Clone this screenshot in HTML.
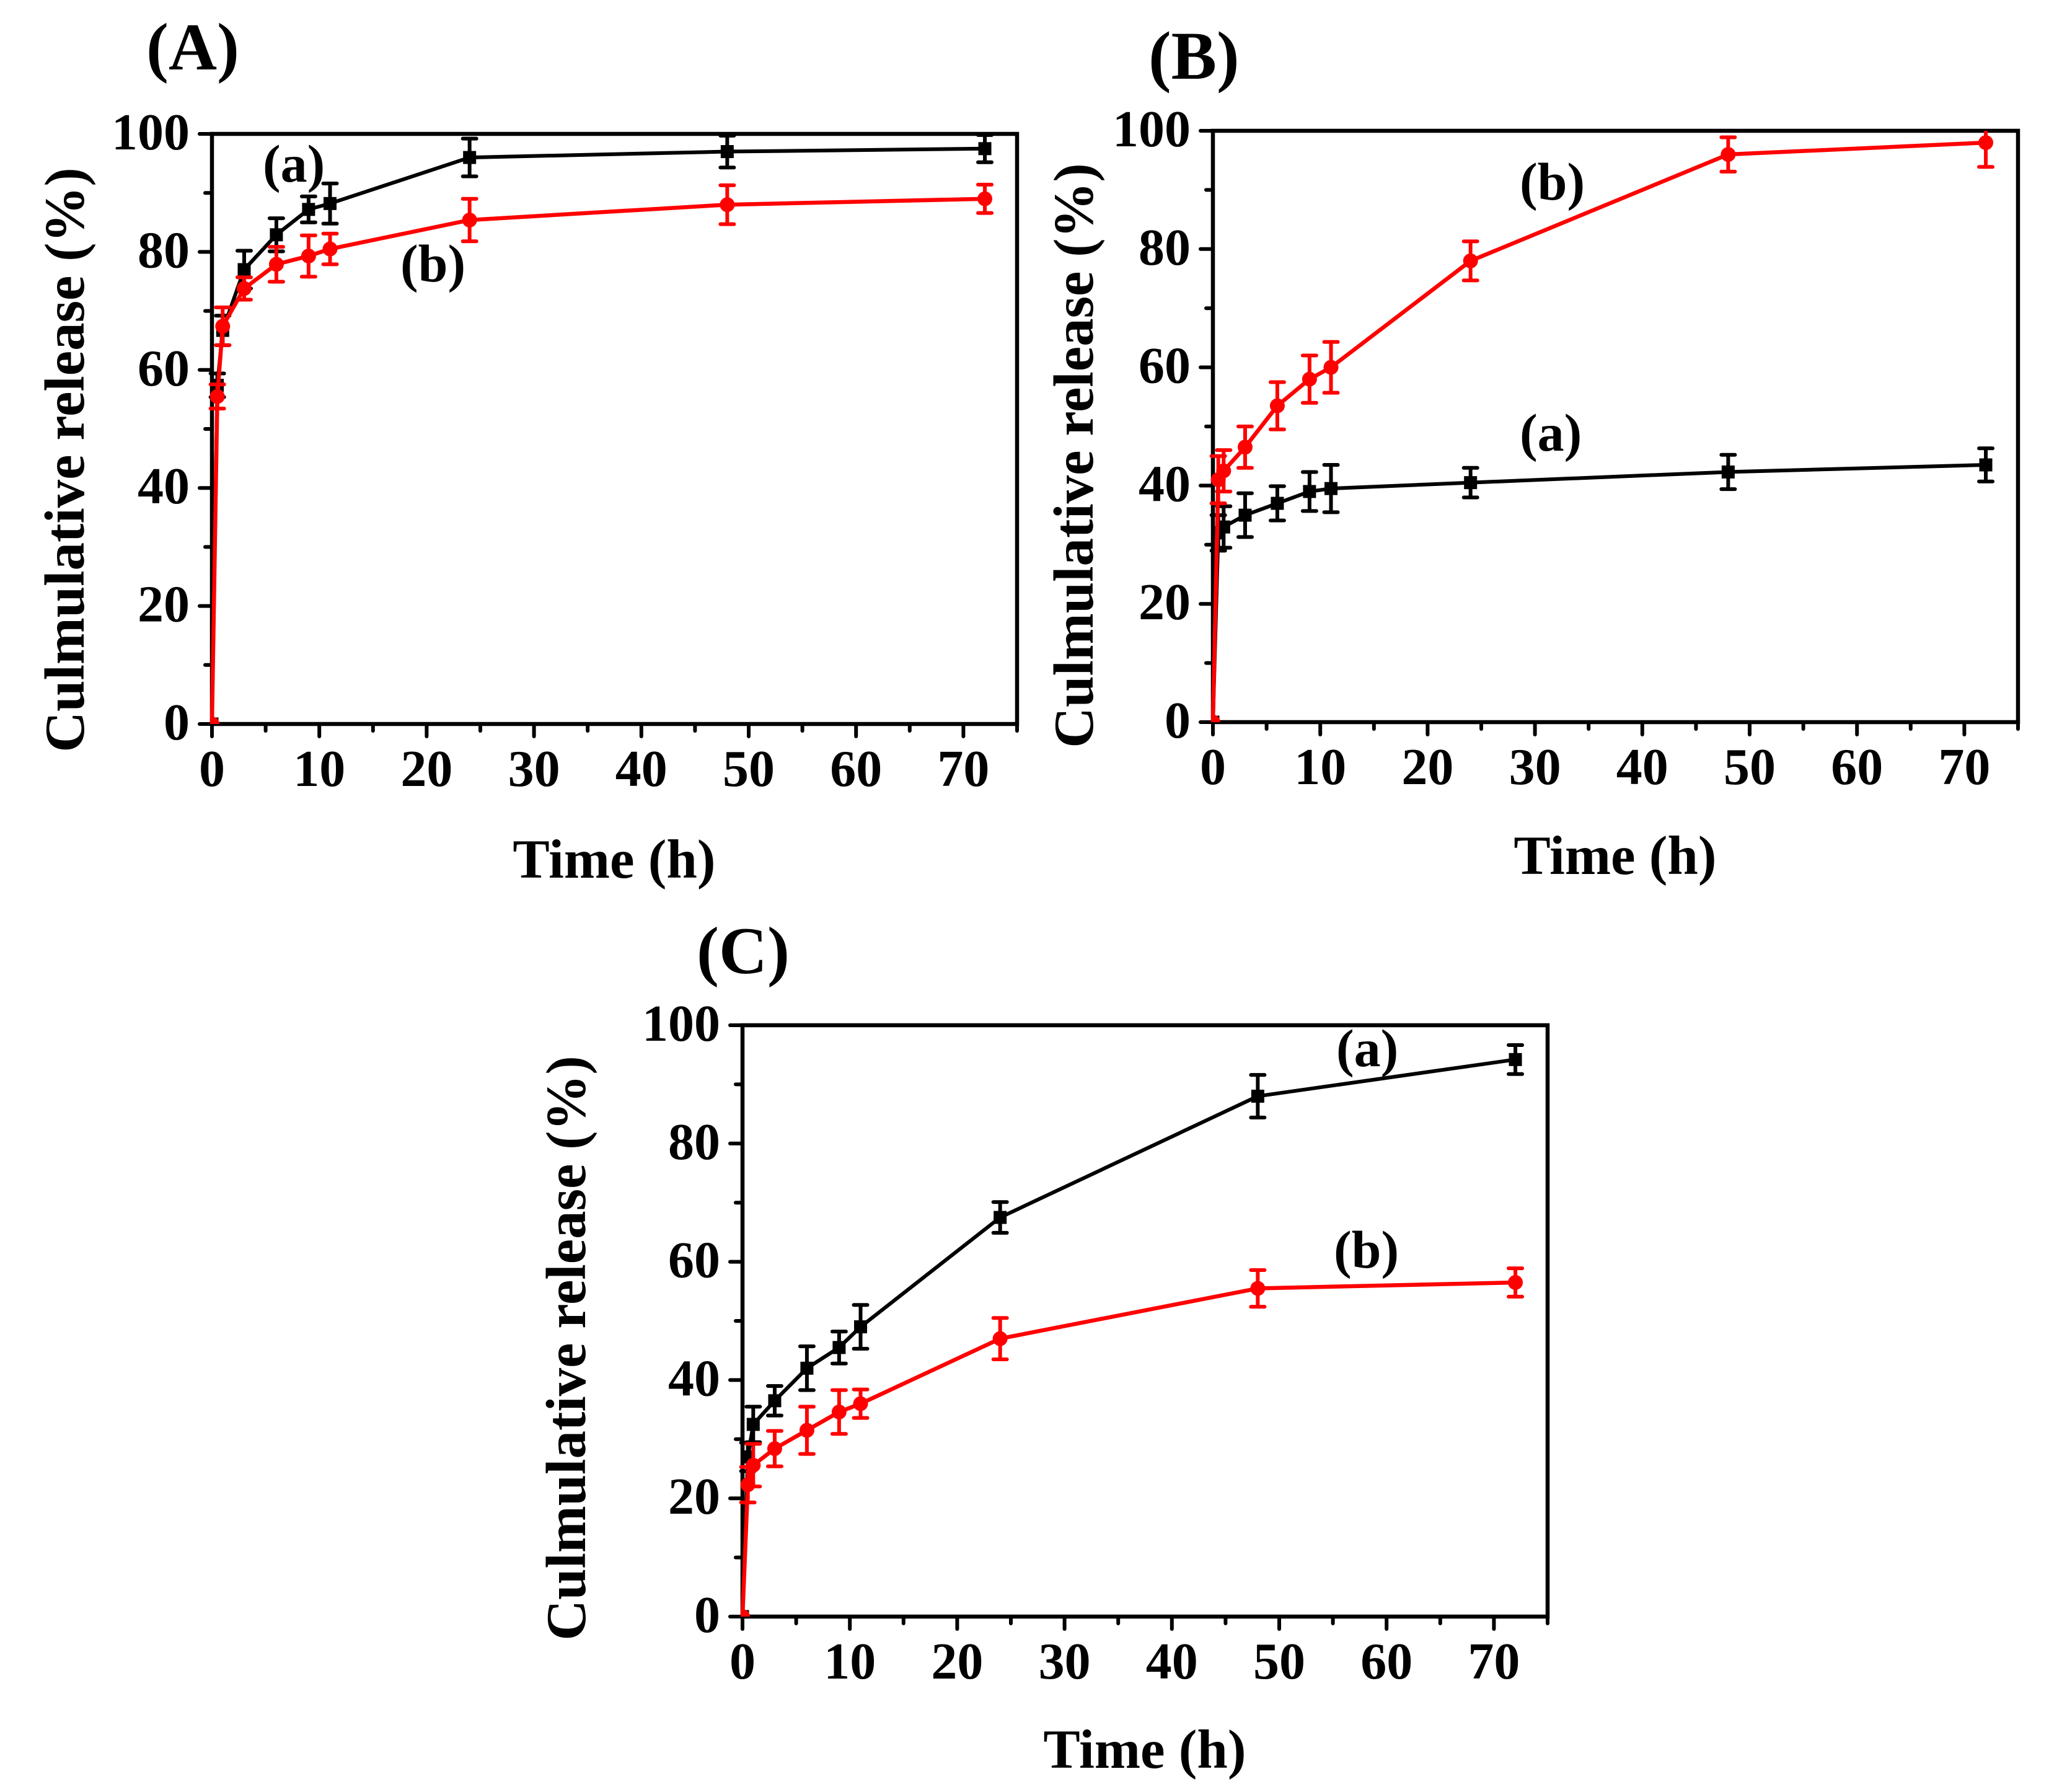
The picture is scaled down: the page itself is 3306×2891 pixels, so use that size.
<!DOCTYPE html>
<html lang="en">
<head>
<meta charset="utf-8">
<title>Cumulative release over time</title>
<style>
html,body{margin:0;padding:0;background:#fff;}
svg{display:block;}
text{font-family:"Liberation Serif",serif;font-weight:bold;fill:#000;}
</style>
</head>
<body>
<svg id="figure" xmlns="http://www.w3.org/2000/svg" width="3306" height="2891" viewBox="0 0 3306 2891">
  <rect width="3306" height="2891" fill="#fff"/>

  <g id="panel-a"></g>
  <g id="panel-b"></g>
  <g id="panel-c"></g>

  <text x="236" y="112" font-size="108">(A)</text>
  <text transform="translate(135,742) rotate(-90)" text-anchor="middle" font-size="91">Culmulative release (%)</text>
  <text x="991" y="1416" text-anchor="middle" font-size="89">Time (h)</text>
  <text x="424" y="293" font-size="86">(a)</text>
  <text x="646" y="454" font-size="86">(b)</text>

  <text x="1853" y="127" font-size="110">(B)</text>
  <text transform="translate(1763,735) rotate(-90)" text-anchor="middle" font-size="91">Culmulative release (%)</text>
  <text x="2606" y="1410" text-anchor="middle" font-size="89">Time (h)</text>
  <text x="2452" y="322" font-size="86">(b)</text>
  <text x="2452" y="727" font-size="86">(a)</text>

  <text x="1124" y="1570" font-size="108">(C)</text>
  <text transform="translate(944,2175) rotate(-90)" text-anchor="middle" font-size="91">Culmulative release (%)</text>
  <text x="1847" y="2852" text-anchor="middle" font-size="89">Time (h)</text>
  <text x="2156" y="1720" font-size="86">(a)</text>
  <text x="2152" y="2045" font-size="86">(b)</text>
</svg>

<script>
const timeHours = [0, 0.5, 1, 3, 6, 9, 11, 24, 48, 72];
const xTickValues = [0, 10, 20, 30, 40, 50, 60, 70];
const xMinorTickValues = [5, 15, 25, 35, 45, 55, 65, 75];
const yTickValues = [0, 20, 40, 60, 80, 100];
const yMinorTickValues = [10, 30, 50, 70, 90];

const panelABlack = [0, 57.4, 66.7, 77, 82.9, 87.2, 88.2, 96, 97, 97.5];
const panelABlackErr = [0, 2, 2.5, 3.2, 2.8, 2.2, 3.4, 3.2, 2.7, 2.3];
const panelARed = [0, 55.5, 67.4, 73.8, 77.9, 79.3, 80.5, 85.4, 88, 89];
const panelARedErr = [0, 2.05, 3.2, 1.9, 2.95, 3.5, 2.6, 3.6, 3.3, 2.4];

const panelBBlack = [0, 32, 33, 35, 37, 39, 39.5, 40.5, 42.3, 43.5];
const panelBBlackErr = [0, 3, 3.5, 3.7, 2.9, 3.3, 4, 2.5, 2.9, 2.8];
const panelBRed = [0, 41, 42.5, 46.5, 53.5, 58, 60, 78, 96, 98];
const panelBRedErr = [0, 4, 3.5, 3.5, 4, 4, 4.3, 3.3, 2.9, 4.1];

const panelCBlack = [0, 27, 32.5, 36.5, 42, 45.5, 49, 67.5, 88, 94.2];
const panelCBlackErr = [0, 2.4, 3, 2.5, 3.7, 2.7, 3.7, 2.6, 3.6, 2.45];
const panelCRed = [0, 22.3, 25.6, 28.4, 31.5, 34.6, 36, 47, 55.5, 56.5];
const panelCRedErr = [0, 3, 3.6, 3, 4, 3.7, 2.4, 3.5, 3.1, 2.4];

const SVG_NS = 'http://www.w3.org/2000/svg';

function make(parent, tag, attrs) {
  const el = document.createElementNS(SVG_NS, tag);
  for (const k in attrs) el.setAttribute(k, attrs[k]);
  parent.appendChild(el);
  return el;
}

function drawPanel(rootId, left, right, top, bottom, blackVals, blackErr, redVals, redErr) {
  const root = document.getElementById(rootId);
  const xMax = 75, yMax = 100;
  const xScale = function (v) { return left + (v / xMax) * (right - left); };
  const yScale = function (v) { return bottom - (v / yMax) * (bottom - top); };

  const clipId = rootId + '-clip';
  const barClipId = rootId + '-bar-clip';
  const defs = make(root, 'defs', {});
  const clip = make(defs, 'clipPath', { id: clipId });
  make(clip, 'rect', { x: left, y: top, width: right - left, height: bottom - top });
  const barClip = make(defs, 'clipPath', { id: barClipId });
  make(barClip, 'rect', { x: left - 40, y: top, width: right - left + 80, height: bottom - top });

  const frame = make(root, 'rect', { x: left, y: top, width: right - left, height: bottom - top, fill: 'none', stroke: '#000', 'stroke-width': 6.5 });
  
  

  xTickValues.forEach(function (v) {
    const tick = make(root, 'line', { x1: xScale(v), x2: xScale(v), y1: bottom, y2: bottom + 20, stroke: '#000', 'stroke-width': 6, 'stroke-linecap': 'round' });
    
    
    const label = make(root, 'text', { x: xScale(v), y: bottom + 100, 'text-anchor': 'middle', 'font-size': 84 });
    label.textContent = String(v);
    
    
  });
  xMinorTickValues.forEach(function (v) {
    const tick = make(root, 'line', { x1: xScale(v), x2: xScale(v), y1: bottom, y2: bottom + 11, stroke: '#000', 'stroke-width': 6, 'stroke-linecap': 'round' });
    
    
  });
  yTickValues.forEach(function (v) {
    const tick = make(root, 'line', { x1: left - 20, x2: left, y1: yScale(v), y2: yScale(v), stroke: '#000', 'stroke-width': 6, 'stroke-linecap': 'round' });
    
    
    const label = make(root, 'text', { x: left - 36, y: yScale(v) + 25, 'text-anchor': 'end', 'font-size': 84 });
    label.textContent = String(v);
    
    
  });
  yMinorTickValues.forEach(function (v) {
    const tick = make(root, 'line', { x1: left - 11, x2: left, y1: yScale(v), y2: yScale(v), stroke: '#000', 'stroke-width': 6, 'stroke-linecap': 'round' });
    
    
  });

  const drawSeries = function (vals, errs, color, lineWidth, isSquare) {
    const pts = vals.map(function (v, i) { return xScale(timeHours[i]) + ',' + yScale(v); }).join(' ');
    const line = make(root, 'polyline', { points: pts, fill: 'none', stroke: color, 'stroke-width': lineWidth, 'stroke-linejoin': 'round' });
    
    

    vals.forEach(function (v, i) {
      const cx = xScale(timeHours[i]);
      const cy = yScale(v);
      if (errs[i] > 0) {
        const hi = yScale(v + errs[i]);
        const lo = yScale(v - errs[i]);
        const d = 'M' + cx + ' ' + hi + 'V' + lo +
          'M' + (cx - 11) + ' ' + hi + 'H' + (cx + 11) +
          'M' + (cx - 11) + ' ' + lo + 'H' + (cx + 11);
        const bar = make(root, 'path', { d: d, fill: 'none', stroke: color, 'stroke-width': 6, 'stroke-linecap': 'round', 'clip-path': 'url(#' + barClipId + ')' });
        
        
      }
      let marker;
      if (isSquare) {
        marker = make(root, 'rect', { x: cx - 10.5, y: cy - 10.5, width: 21, height: 21, fill: color });
      } else {
        marker = make(root, 'circle', { cx: cx, cy: cy, r: 12, fill: color });
      }
      if (v === 0) marker.setAttribute('clip-path', 'url(#' + clipId + ')');
      
      
    });
  };

  drawSeries(blackVals, blackErr, '#000000', 6, true);
  drawSeries(redVals, redErr, '#ff0000', 6.5, false);
}

drawPanel('panel-a', 342, 1641, 216, 1168, panelABlack, panelABlackErr, panelARed, panelARedErr);
drawPanel('panel-b', 1957, 3256, 211, 1165, panelBBlack, panelBBlackErr, panelBRed, panelBRedErr);
drawPanel('panel-c', 1198, 2497, 1654, 2608, panelCBlack, panelCBlackErr, panelCRed, panelCRedErr);
</script>
</body>
</html>
